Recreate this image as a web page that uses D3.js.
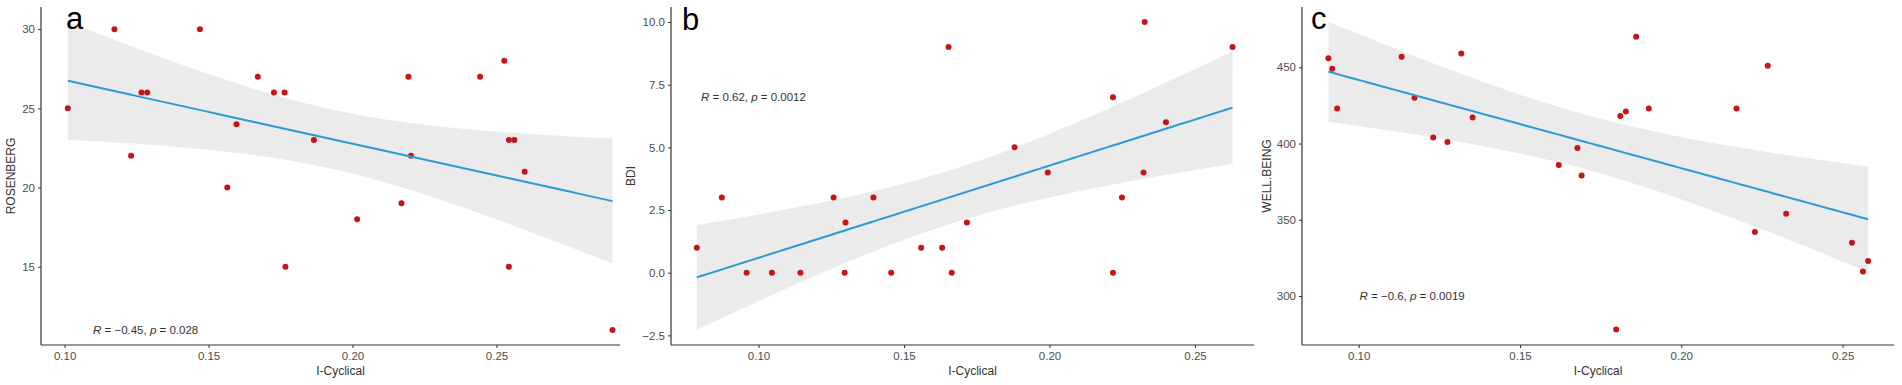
<!DOCTYPE html>
<html>
<head>
<meta charset="utf-8">
<script src="https://cdn.jsdelivr.net/npm/d3@7/dist/d3.min.js"></script>
<style>
  html, body { margin: 0; padding: 0; background: #fff; }
  svg { display: block; font-family: "Liberation Sans", Arial, sans-serif; }
</style>
</head>
<body>
<svg id="chart" width="1902" height="385"></svg>
<script>
// ---------------- DATA ----------------
const xLabel = "I-Cyclical";

// Panel a : ROSENBERG vs I-Cyclical
const aX = [0.1011, 0.1173, 0.1231, 0.1267, 0.1287, 0.1470, 0.1565, 0.1597, 0.1671, 0.1727, 0.1764, 0.1767,
            0.1866, 0.2016, 0.2170, 0.2194, 0.2203, 0.2443, 0.2527, 0.2543, 0.2562, 0.2543, 0.2598, 0.2903];
const aY = [25, 30, 22, 26, 26, 30, 20, 24, 27, 26, 26, 15,
            23, 18, 19, 27, 22, 27, 28, 23, 23, 15, 21, 11];
const aXTicks = [0.10, 0.15, 0.20, 0.25];
const aYTicks = [15, 20, 25, 30];

// Panel b : BDI vs I-Cyclical
const bX = [0.0788, 0.0874, 0.0959, 0.1046, 0.1144, 0.1258, 0.1296, 0.1299, 0.1395, 0.1456, 0.1559, 0.1631,
            0.1653, 0.1664, 0.1716, 0.1880, 0.1994, 0.2218, 0.2218, 0.2249, 0.2323, 0.2327, 0.2400, 0.2629];
const bY = [1, 3, 0, 0, 0, 3, 0, 2, 3, 0, 1, 1,
            9, 0, 2, 5, 4, 7, 0, 3, 4, 10, 6, 9];
const bXTicks = [0.10, 0.15, 0.20, 0.25];
const bYTicks = [-2.5, 0.0, 2.5, 5.0, 7.5, 10.0];

// Panel c : WELL.BEING vs I-Cyclical
const cX = [0.0906, 0.0918, 0.0933, 0.1133, 0.1173, 0.1231, 0.1275, 0.1318, 0.1353, 0.1620, 0.1678, 0.1691,
            0.1798, 0.1811, 0.1828, 0.1860, 0.1899, 0.2171, 0.2228, 0.2268, 0.2325, 0.2529, 0.2563, 0.2579];
const cY = [456, 449, 423, 457, 430, 404, 401, 459, 417, 386, 397, 379,
            278, 418, 421, 470, 423, 423, 342, 451, 354, 335, 316, 323];
const cXTicks = [0.10, 0.15, 0.20, 0.25];
const cYTicks = [300, 350, 400, 450];

const panelLetters = ["a", "b", "c"];
const yLabels = ["ROSENBERG", "BDI", "WELL.BEING"];
const statR = ["\u22120.45", "0.62", "\u22120.6"];
const statP = ["0.028", "0.0012", "0.0019"];

// ---------------- LAYOUT / STYLE ----------------
const T_975_DF = 2.0739; // t quantile (0.975, df = n-2 = 22)
const panels = [
  { x: aX, y: aY, xt: aXTicks, yt: aYTicks, fmt: d3.format(".2f"), yfmt: d3.format("d"),
    px: [41, 620], py: [345, 7], xd: [0.0918, 0.2929], yd: [10.05, 31.40],
    letter: { x: 66, y: 28.5 }, ylab: 11, ann: { x: 93, y: 334 } },
  { x: bX, y: bY, xt: bXTicks, yt: bYTicks, fmt: d3.format(".2f"), yfmt: d3.format(".1f"),
    px: [671, 1254], py: [345, 7], xd: [0.06993, 0.27027], yd: [-2.884, 10.598],
    letter: { x: 682, y: 30 }, ylab: 631, ann: { x: 701, y: 101 } },
  { x: cX, y: cY, xt: cXTicks, yt: cYTicks, fmt: d3.format(".2f"), yfmt: d3.format("d"),
    px: [1302, 1894], py: [345, 7], xd: [0.08242, 0.26593], yd: [267.86, 489.55],
    letter: { x: 1311, y: 28.5 }, ylab: 1267, ann: { x: 1359.5, y: 300 } }
];

const svg = d3.select("#chart");

function linfit(xs, ys) {
  const n = xs.length;
  const mx = d3.mean(xs), my = d3.mean(ys);
  let sxx = 0, sxy = 0;
  for (let i = 0; i < n; i++) { sxx += (xs[i]-mx)**2; sxy += (xs[i]-mx)*(ys[i]-my); }
  const b1 = sxy / sxx, b0 = my - b1 * mx;
  let sse = 0;
  for (let i = 0; i < n; i++) sse += (ys[i] - (b0 + b1*xs[i]))**2;
  const s = Math.sqrt(sse / (n - 2));
  return { b0, b1, f: x => b0 + b1 * x,
           se: x => s * Math.sqrt(1/n + (x-mx)**2 / sxx) };
}

panels.forEach((p, i) => {
  const g = svg.append("g");
  const x = d3.scaleLinear().domain(p.xd).range(p.px);
  const y = d3.scaleLinear().domain(p.yd).range(p.py);

  // regression ribbon + line
  const fit = linfit(p.x, p.y);
  const [x0, x1] = d3.extent(p.x);
  const grid = d3.range(0, 81).map(k => x0 + (x1 - x0) * k / 80);
  const band = grid.map(v => ({ v, yh: fit.f(v), lo: fit.f(v) - T_975_DF*fit.se(v), hi: fit.f(v) + T_975_DF*fit.se(v) }));
  g.append("path").datum(band)
    .attr("fill", "#ebebeb")
    .attr("d", d3.area().x(d => x(d.v)).y0(d => y(d.lo)).y1(d => y(d.hi)));

  // points
  g.append("g").selectAll("circle").data(p.x.map((v, k) => [v, p.y[k]])).join("circle")
    .attr("cx", d => x(d[0])).attr("cy", d => y(d[1])).attr("r", 3)
    .attr("fill", "#c81414");

  g.append("path").datum(band)
    .attr("fill", "none").attr("stroke", "#2b9cd6").attr("stroke-width", 2)
    .attr("d", d3.line().x(d => x(d.v)).y(d => y(d.yh)));

  // axes
  const xa = g.append("g").attr("transform", `translate(0,${p.py[0]})`)
    .call(d3.axisBottom(x).tickValues(p.xt).tickFormat(p.fmt).tickSize(3).tickPadding(4));
  const ya = g.append("g").attr("transform", `translate(${p.px[0]},0)`)
    .call(d3.axisLeft(y).tickValues(p.yt).tickFormat(p.yfmt).tickSize(3).tickPadding(3));
  [xa, ya].forEach(a => {
    a.select(".domain").remove();
    a.selectAll(".tick line").attr("stroke", "#333").attr("stroke-width", 1);
    a.selectAll(".tick text").attr("fill", "#4d4d4d").attr("font-size", "11.5px")
      .attr("font-family", "'Liberation Sans', Arial, sans-serif");
  });
  g.append("line").attr("x1", p.px[0]).attr("x2", p.px[0]).attr("y1", p.py[1]).attr("y2", p.py[0])
    .attr("stroke", "#333").attr("stroke-width", 1.2);
  g.append("line").attr("x1", p.px[0]).attr("x2", p.px[1]).attr("y1", p.py[0]).attr("y2", p.py[0])
    .attr("stroke", "#333").attr("stroke-width", 1.2);

  // axis titles
  g.append("text").attr("x", x((p.xd[0] + p.xd[1]) / 2) + (i < 2 ? 10 : 0)).attr("y", 374.5)
    .attr("text-anchor", "middle").attr("font-size", "12px").attr("fill", "#333").text(xLabel);
  g.append("text").attr("transform", `translate(${p.ylab},${(p.py[0] + p.py[1]) / 2}) rotate(-90)`)
    .attr("text-anchor", "middle").attr("dominant-baseline", "central")
    .attr("font-size", "12px").attr("fill", "#333").text(yLabels[i]);

  // panel letter
  g.append("text").attr("x", p.letter.x).attr("y", p.letter.y)
    .attr("font-size", "31px").attr("fill", "#000").text(panelLetters[i]);

  // stat annotation
  const t = g.append("text").attr("x", p.ann.x).attr("y", p.ann.y)
    .attr("font-size", "11.5px").attr("fill", "#333");
  t.append("tspan").attr("font-style", "italic").text("R");
  t.append("tspan").text(` = ${statR[i]}, `);
  t.append("tspan").attr("font-style", "italic").text("p");
  t.append("tspan").text(` = ${statP[i]}`);
});
</script>
</body>
</html>
